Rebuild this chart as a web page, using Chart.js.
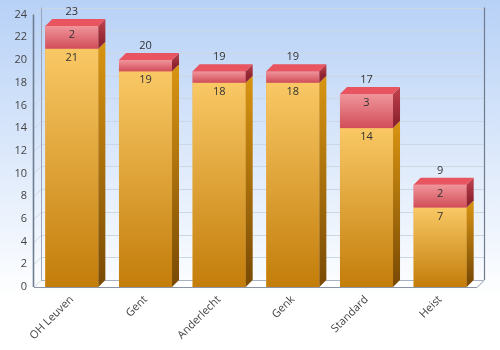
<!DOCTYPE html>
<html>
<head>
<meta charset="utf-8">
<script src="https://cdn.jsdelivr.net/npm/chart.js@4.4.1/dist/chart.umd.min.js"></script>
<style>
  html, body { margin: 0; padding: 0; background: #fff; }
  #wrap { width: 500px; height: 350px; }
</style>
</head>
<body>
<div id="wrap"><canvas id="teamsChart" width="500" height="350"></canvas></div>
<script>
const categories = ['OH Leuven', 'Gent', 'Anderlecht', 'Genk', 'Standard', 'Heist'];
const orangeValues = [21, 19, 18, 18, 14, 7];
const redValues = [2, 1, 1, 1, 3, 2];
const yMin = 0, yMax = 24, yStep = 2;

const depth = 7;
const fontFamily = '"Open Sans", "Noto Sans", sans-serif';

// background and the 3D box (walls, floor, grid)
const boxPlugin = {
    id: 'box3d',
    beforeDraw(chart) {
        const { ctx, width, height } = chart;
        const g = ctx.createLinearGradient(0, 0, 0, height);
        g.addColorStop(0, '#b7d1f6');
        g.addColorStop(0.85, '#ffffff');
        g.addColorStop(1, '#ffffff');
        ctx.save();
        ctx.fillStyle = g;
        ctx.fillRect(0, 0, width, height);
        ctx.restore();
    },
    beforeDatasetsDraw(chart) {
        const { ctx, chartArea } = chart;
        const yScale = chart.scales.y;
        const L = chartArea.left - 1, R = chartArea.right;
        const y0 = yScale.getPixelForValue(yMin);
        const yTop = yScale.getPixelForValue(yMax);
        ctx.save();
        // floor
        ctx.fillStyle = '#ffffff';
        ctx.beginPath();
        ctx.moveTo(L, y0);
        ctx.lineTo(L + depth, y0 - depth);
        ctx.lineTo(R + depth, y0 - depth);
        ctx.lineTo(R, y0);
        ctx.closePath();
        ctx.fill();
        // grid lines on left wall and back wall
        ctx.strokeStyle = '#cdd6e3';
        ctx.lineWidth = 1;
        for (let v = yMin; v <= yMax; v += yStep) {
            const py = Math.round(yScale.getPixelForValue(v)) + 0.5;
            ctx.beginPath();
            ctx.moveTo(L, py);
            ctx.lineTo(L + depth, py - depth);
            ctx.lineTo(R + depth, py - depth);
            ctx.stroke();
        }
        // floor edges
        ctx.strokeStyle = '#8a94a6';
        ctx.beginPath();
        ctx.moveTo(L, Math.round(y0) + 0.5);
        ctx.lineTo(R, Math.round(y0) + 0.5);
        ctx.lineTo(R + depth, Math.round(y0) - depth + 0.5);
        ctx.stroke();
        ctx.strokeStyle = '#a9b2c2';
        ctx.beginPath();
        ctx.moveTo(L + depth, Math.round(y0) - depth + 0.5);
        ctx.lineTo(R + depth, Math.round(y0) - depth + 0.5);
        ctx.stroke();
        // wall edges
        ctx.strokeStyle = '#9aa5b8';
        ctx.beginPath();
        ctx.moveTo(L + depth + 0.5, y0 - depth);
        ctx.lineTo(L + depth + 0.5, yTop - depth);
        ctx.stroke();
        ctx.strokeStyle = '#6f7d93';
        ctx.lineWidth = 1.6;
        ctx.beginPath();
        ctx.moveTo(L - 0.5, y0);
        ctx.lineTo(L - 0.5, yTop);
        ctx.stroke();
        ctx.strokeStyle = '#707c8e';
        ctx.lineWidth = 1.2;
        ctx.beginPath();
        ctx.moveTo(R + depth + 0.5, y0 - depth);
        ctx.lineTo(R + depth + 0.5, yTop - depth);
        ctx.stroke();
        ctx.restore();
    }
};

const faces = [
    { front: ['#f9c865', '#c37d0a'], side: ['#d99512', '#7c4c05'], top: '#fbd98a' },
    { front: ['#f0959b', '#d14d58'], side: ['#c0434f', '#8f2430'], top: '#e8545f' }
];

// front, side and top faces plus value labels
const barsPlugin = {
    id: 'bars3d',
    afterDatasetsDraw(chart) {
        const ctx = chart.ctx;
        const boxes = [];
        ctx.save();
        chart.data.datasets.forEach((ds, di) => {
            const meta = chart.getDatasetMeta(di);
            const f = faces[di];
            meta.data.forEach((bar, i) => {
                const { x, y, base, width } = bar.getProps(['x', 'y', 'base', 'width'], true);
                const l = x - width / 2, r = x + width / 2;
                // front
                let g = ctx.createLinearGradient(0, y, 0, base);
                g.addColorStop(0, f.front[0]);
                g.addColorStop(1, f.front[1]);
                ctx.fillStyle = g;
                ctx.fillRect(l, y, width, base - y);
                // side
                g = ctx.createLinearGradient(0, y - depth, 0, base - depth);
                g.addColorStop(0, f.side[0]);
                g.addColorStop(1, f.side[1]);
                ctx.fillStyle = g;
                ctx.beginPath();
                ctx.moveTo(r, y);
                ctx.lineTo(r + depth, y - depth);
                ctx.lineTo(r + depth, base - depth);
                ctx.lineTo(r, base);
                ctx.closePath();
                ctx.fill();
                // top face only on the highest segment
                if (di === chart.data.datasets.length - 1) {
                    ctx.fillStyle = f.top;
                    ctx.beginPath();
                    ctx.moveTo(l, y);
                    ctx.lineTo(l + depth, y - depth);
                    ctx.lineTo(r + depth, y - depth);
                    ctx.lineTo(r, y);
                    ctx.closePath();
                    ctx.fill();
                }
                boxes.push({ di, i, x, y, base, value: ds.data[i] });
            });
        });
        ctx.font = '11px ' + fontFamily;
        ctx.fillStyle = '#333333';
        ctx.textAlign = 'center';
        ctx.textBaseline = 'middle';
        boxes.forEach(b => {
            if (b.base - b.y > 16) ctx.fillText(String(b.value), b.x, b.y + 9);
        });
        const last = chart.data.datasets.length - 1;
        boxes.filter(b => b.di === last).forEach(b => {
            const total = orangeValues[b.i] + redValues[b.i];
            ctx.fillText(String(total), b.x, b.y - depth - 7);
        });
        ctx.restore();
    }
};

const canvas = document.getElementById('teamsChart');
new Chart(canvas.getContext('2d'), {
    type: 'bar',
    data: {
        labels: categories,
        datasets: [{
            data: orangeValues,
            backgroundColor: '#e9a532',
            categoryPercentage: 0.72,
            barPercentage: 1
        }, {
            data: redValues,
            backgroundColor: '#e0646d',
            categoryPercentage: 0.72,
            barPercentage: 1
        }]
    },
    options: {
        responsive: false,
        animation: false,
        layout: { padding: { top: 12, right: 23, left: 0, bottom: 0 } },
        plugins: { legend: { display: false }, tooltip: { enabled: false } },
        scales: {
            x: {
                stacked: true,
                grid: { display: false, drawTicks: false },
                border: { display: false },
                ticks: {
                    minRotation: 45,
                    maxRotation: 45,
                    padding: 6,
                    color: '#444',
                    font: { family: fontFamily, size: 11 }
                },
                afterFit(scale) { scale.height = 63; }
            },
            y: {
                stacked: true,
                min: yMin,
                max: yMax,
                grid: { display: false, drawTicks: false },
                border: { display: false },
                ticks: {
                    stepSize: yStep,
                    padding: 8,
                    color: '#444',
                    font: { family: fontFamily, size: 11 }
                },
                afterFit(scale) { scale.width = 35; }
            }
        }
    },
    plugins: [boxPlugin, barsPlugin]
});
</script>
</body>
</html>
